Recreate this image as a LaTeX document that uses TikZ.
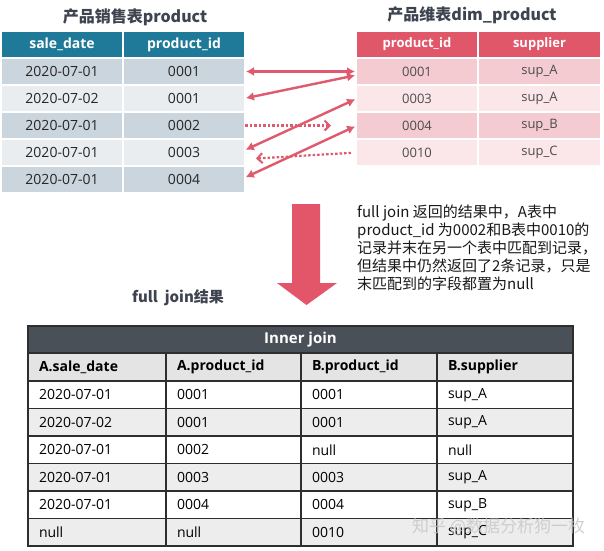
\documentclass[tikz,border=0pt]{standalone}
\usepackage{fontspec}
\setmainfont{Open Sans}
\newfontfamily\cjk{Noto Sans CJK SC}
\usepackage{xcolor}
\usepackage{tikz}
\usetikzlibrary{positioning}
\usetikzlibrary{arrows.meta}
\definecolor{salehead}{HTML}{1F7A99}
\definecolor{salerowA}{HTML}{CBD5DD}
\definecolor{salerowB}{HTML}{E9EDF0}
\definecolor{dimhead}{HTML}{E0576A}
\definecolor{dimrowA}{HTML}{F4CBD1}
\definecolor{dimrowB}{HTML}{FBE6E9}
\definecolor{linkred}{HTML}{E0596C}
\definecolor{bigred}{HTML}{E35568}
\definecolor{gridhead}{HTML}{4A5058}
\definecolor{gridsub}{HTML}{E4E4E4}
\definecolor{gridrow}{HTML}{EDEDED}
\definecolor{gridline}{HTML}{2E2E2E}
\definecolor{inktext}{HTML}{3D4450}
\tikzset{link/.style = {draw=linkred, line width=2.4pt, shorten <=2pt, shorten >=2pt,
    {Latex[length=8pt,width=9pt]}-{Latex[length=8pt,width=9pt]}}}
\tikzset{misslink/.style = {draw=linkred, line width=2.2pt, dash pattern=on 2.5pt off 2pt,
    -{Straight Barb[length=5pt,width=10pt,line width=2pt]}}}

\begin{document}
\begin{tikzpicture}[x=1pt,y=-1pt,node distance=2pt,
    salehd/.style={fill=salehead,text=white,font=\bfseries\fontsize{14}{16}\selectfont,
      minimum width=120pt,minimum height=25pt,inner sep=0pt,outer sep=0pt},
    salecell/.style={text=black!85,font=\fontsize{14}{16}\selectfont,
      minimum width=120pt,minimum height=25pt,inner sep=0pt,outer sep=0pt},
    dimhd/.style={fill=dimhead,text=white,font=\bfseries\fontsize{13}{15}\selectfont,
      minimum width=120pt,minimum height=25pt,inner sep=0pt,outer sep=0pt},
    dimcell/.style={text=black!70,font=\fontsize{13}{15}\selectfont,
      minimum width=120pt,minimum height=25pt,inner sep=0pt,outer sep=0pt},
    gridcell/.style={draw=gridline,line width=1.2pt,font=\fontsize{14}{16}\selectfont,
      minimum height=27.5pt,inner xsep=11pt,inner ysep=0pt,outer sep=0pt,align=left},
    gridhd/.style={gridcell,fill=gridsub,font=\bfseries\fontsize{14}{16}\selectfont,minimum height=28pt}]
  \useasboundingbox[fill=white] (0,0) rectangle (604,550);

  % A: sales table
  \node[font=\cjk\bfseries\fontsize{16}{18}\selectfont,text=inktext] (saletitle) at (135,17) {产品销售表product};
  \node[salehd,anchor=north west] (l0a) at (2,32) {sale\_date};
  \node[salehd,right=of l0a] (l0b) {product\_id};
  \foreach \d/\p/\c [count=\i, remember=\i as \j (initially 0)] in
      {2020-07-01/0001/salerowA, 2020-07-02/0001/salerowB, 2020-07-01/0002/salerowA,
       2020-07-01/0003/salerowB, 2020-07-01/0004/salerowA}
  {
    \node[salecell,fill=\c,below=of l\j a] (l\i a) {\d};
    \node[salecell,fill=\c,right=of l\i a] (l\i b) {\p};
  }

  % B: dim table
  \node[font=\cjk\bfseries\fontsize{16}{18}\selectfont,text=inktext] (dimtitle) at (472,15) {产品维表dim\_product};
  \node[dimhd,anchor=north west] (r0a) at (357,32) {product\_id};
  \node[dimhd,right=of r0a,minimum width=121pt] (r0b) {supplier};
  \foreach \p/\s/\c [count=\i, remember=\i as \j (initially 0)] in
      {0001/sup\_A/dimrowA, 0003/sup\_A/dimrowB, 0004/sup\_B/dimrowA, 0010/sup\_C/dimrowB}
  {
    \node[dimcell,fill=\c,below=of r\j a] (r\i a) {\p};
    \node[dimcell,fill=\c,right=of r\i a,minimum width=121pt] (r\i b) {\s};
  }

  % links
  \coordinate (gapA) at (331,125.5);
  \coordinate (gapB) at (256,158.5);
  \draw[link] (l1b.east) -- (r1a.west);
  \draw[link] (l2b.east) -- ([yshift=-3.5pt]r1a.west);
  \draw[link] ([yshift=2pt]l4b.east) -- (r2a.west);
  \draw[link] ([yshift=1.5pt]l5b.east) -- (r3a.west);
  \draw[misslink] ([xshift=1pt]l3b.east) -- (gapA);
  \draw[misslink,shorten <=6pt] (r4a.west) -- (gapB);

  % big arrow
  \fill[bigred] (292,204) -- (320,204) -- (320,283) -- (337,283) -- (306.5,305)
    -- (277,283) -- (292,283) -- cycle;

  \node[anchor=north west,align=left,inner sep=0pt,font=\cjk\fontsize{15}{18}\selectfont,text=black!90] (note) at (357,205)
    {full join 返回的结果中，A表中\\
     product\_id 为0002和B表中0010的\\
     记录并末在另一个表中匹配到记录，\\
     但结果中仍然返回了2条记录，只是\\
     末匹配到的字段都置为null};

  \node[anchor=west,inner sep=0pt,font=\cjk\bfseries\fontsize{15}{17}\selectfont,text=inktext] (restitle) at (132,298) {full\ \ join结果};

  % result table
  \node[fill=gridhead,draw=gridline,line width=1.2pt,text=white,font=\bfseries\fontsize{15}{17}\selectfont,
    minimum width=545pt,minimum height=27pt,inner sep=0pt,outer sep=0pt,anchor=north west] (g) at (28,326) {Inner join};
  \node[gridhd,text width=116pt,anchor=north west] (g0a) at (g.south west) {A.sale\_date};
  \node[gridhd,text width=113pt,right=0pt of g0a] (g0b) {A.product\_id};
  \node[gridhd,text width=114pt,right=0pt of g0b] (g0c) {B.product\_id};
  \node[gridhd,text width=114pt,right=0pt of g0c] (g0d) {B.supplier};
  \foreach \ca/\cb/\cc/\cd/\bg [count=\i, remember=\i as \j (initially 0)] in
      {2020-07-01/0001/0001/sup\_A/white, 2020-07-02/0001/0001/sup\_A/gridrow,
       2020-07-01/0002/null/null/white, 2020-07-01/0003/0003/sup\_A/gridrow,
       2020-07-01/0004/0004/sup\_B/white, null/null/0010/sup\_C/gridrow}
  {
    \node[gridcell,fill=\bg,text width=116pt,below=0pt of g\j a] (g\i a) {\ca};
    \node[gridcell,fill=\bg,text width=113pt,right=0pt of g\i a] (g\i b) {\cb};
    \node[gridcell,fill=\bg,text width=114pt,right=0pt of g\i b] (g\i c) {\cc};
    \node[gridcell,fill=\bg,text width=114pt,right=0pt of g\i c] (g\i d) {\cd};
  }

  \node[anchor=west,inner sep=0pt,text=gray!45,opacity=0.8,font=\cjk\fontsize{17}{19}\selectfont] (wmark) at (412,527) {知乎 @数据分析狗一枚};
\end{tikzpicture}
\end{document}
